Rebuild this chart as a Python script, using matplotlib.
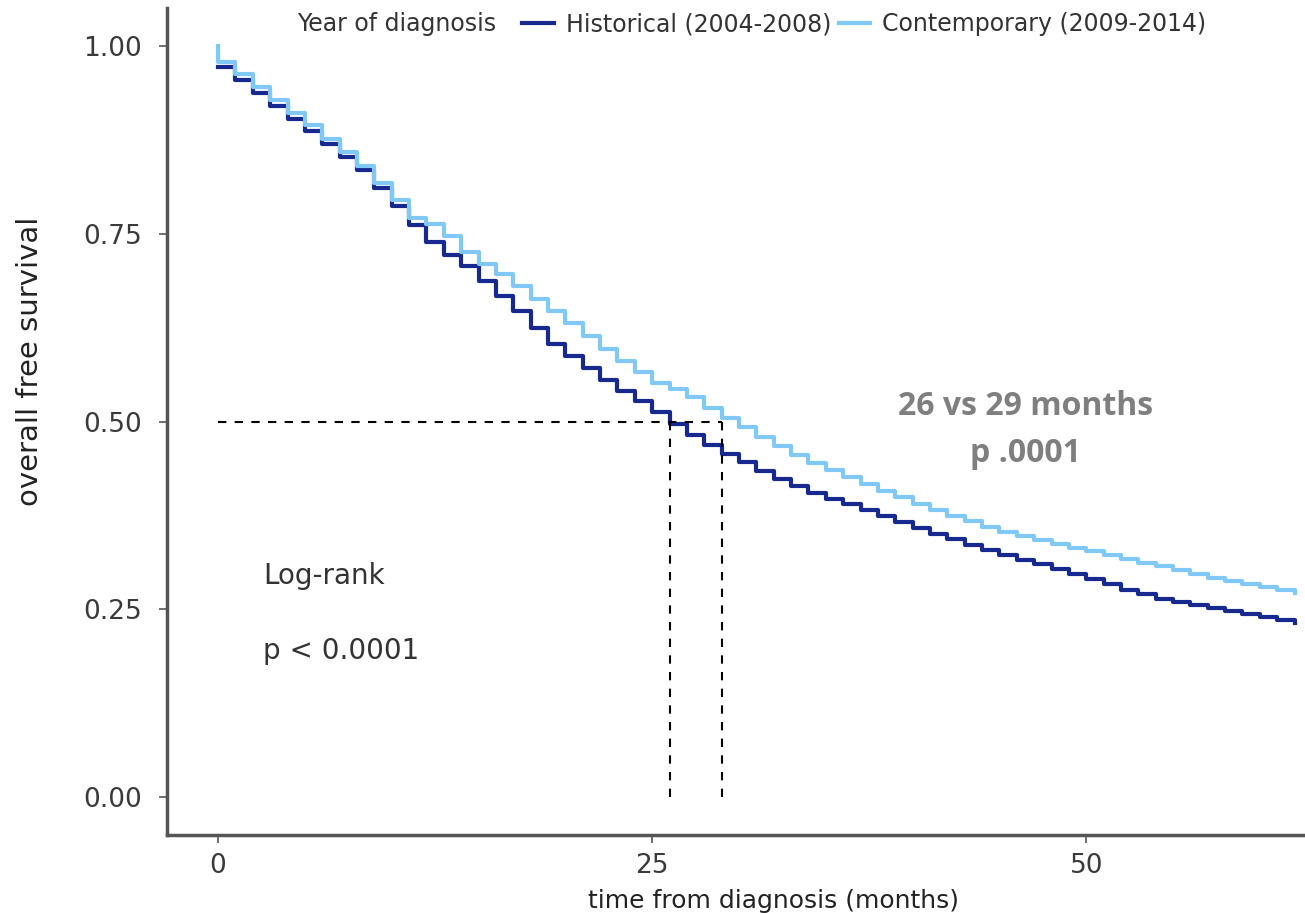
import matplotlib.pyplot as plt
import numpy as np

months = np.arange(0, 63)

historical = [0.972, 0.955, 0.938, 0.921, 0.904, 0.887, 0.870, 0.853, 0.835, 0.812,
              0.787, 0.762, 0.740, 0.722, 0.707, 0.688, 0.668, 0.647, 0.625, 0.604,
              0.588, 0.572, 0.556, 0.541, 0.527, 0.513, 0.497, 0.482, 0.469, 0.457,
              0.446, 0.434, 0.423, 0.414, 0.405, 0.397, 0.390, 0.382, 0.374, 0.366,
              0.358, 0.350, 0.343, 0.336, 0.329, 0.322, 0.316, 0.310, 0.304, 0.297,
              0.290, 0.283, 0.276, 0.270, 0.264, 0.259, 0.255, 0.251, 0.247, 0.243,
              0.239, 0.236, 0.232]

contemporary = [0.979, 0.963, 0.946, 0.929, 0.912, 0.895, 0.877, 0.859, 0.841, 0.818,
                0.795, 0.772, 0.763, 0.748, 0.726, 0.710, 0.697, 0.681, 0.664, 0.648,
                0.631, 0.614, 0.597, 0.581, 0.566, 0.552, 0.544, 0.533, 0.518, 0.505,
                0.493, 0.480, 0.467, 0.456, 0.445, 0.435, 0.426, 0.417, 0.408, 0.399,
                0.390, 0.382, 0.374, 0.367, 0.360, 0.353, 0.347, 0.342, 0.337, 0.332,
                0.327, 0.322, 0.317, 0.312, 0.307, 0.302, 0.297, 0.292, 0.287, 0.283,
                0.279, 0.275, 0.271]

medians = [26, 29]
labels = ["Historical (2004-2008)", "Contemporary (2009-2014)"]
dark = "#17298f"
light = "#80c8f6"

plt.rcParams['font.family'] = ['DejaVu Sans']

fig = plt.figure(figsize=(13.05, 9.13), dpi=100)
ax = fig.add_axes([0.128, 0.0854, 0.872, 0.9056])

ax.step(months, historical, where="post", color=dark, lw=3, label=labels[0])
ax.step(np.concatenate([[0], months]), [1.0] + contemporary, where="post",
        color=light, lw=3, label=labels[1])

# median lines
ax.plot([0, medians[1]], [0.5, 0.5], ls=(0, (4, 4)), color="black", lw=1.5)
for m in medians:
    ax.plot([m, m], [0, 0.5], ls=(0, (4, 4)), color="black", lw=1.5)

ax.set_xlim(-2.94, 62.6)
ax.set_ylim(-0.051, 1.051)
ax.set_xticks([0, 25, 50])
ax.set_yticks([0, 0.25, 0.5, 0.75, 1.0])
ax.set_yticklabels(["0.00", "0.25", "0.50", "0.75", "1.00"])

for s in ["top", "right"]:
    ax.spines[s].set_visible(False)
for s in ["left", "bottom"]:
    ax.spines[s].set_linewidth(2.5)
    ax.spines[s].set_color("#555555")
ax.tick_params(colors="#555555", labelcolor="#3a3a3a", labelsize=19, width=1.2, length=6)
ax.tick_params(axis="x", pad=7)
ax.tick_params(axis="y", pad=12)

ax.set_xlabel("time from diagnosis (months)", fontsize=18, color="#222222")
ax.xaxis.set_label_coords(0.533, -0.065)
ax.set_ylabel("overall free survival", fontsize=21, color="#222222")
ax.yaxis.set_label_coords(-0.108, 0.573)

ax.text(2.6, 0.294, "Log-rank", fontsize=20, color="#333333", va="center")
ax.text(2.6, 0.194, "p < 0.0001", fontsize=20, color="#333333", va="center")

ax.text(46.5, 0.52, "26 vs 29 months", fontsize=23, color="#7f7f7f", weight="bold",
        ha="center", va="center", family=['Open Sans', 'DejaVu Sans'])
ax.text(46.5, 0.458, "p .0001", fontsize=23, color="#7f7f7f", weight="bold",
        ha="center", va="center", family=['Open Sans', 'DejaVu Sans'])

fig.text(0.2276, 0.9737, "Year of diagnosis", fontsize=17, color="#333333", va="center")
fig.legend(loc="center left", bbox_to_anchor=(0.384, 0.9737), ncol=2, frameon=False,
           fontsize=17, handlelength=1.35, handletextpad=0.5, columnspacing=0.3,
           labelcolor="#333333")

fig.savefig("out.png", dpi=100)
